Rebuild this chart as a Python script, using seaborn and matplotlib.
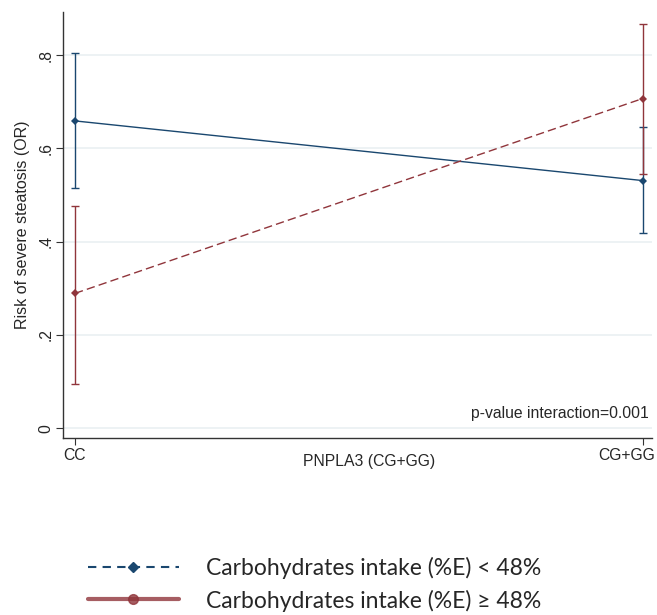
import numpy as np
import pandas as pd
import seaborn as sns
import matplotlib.pyplot as plt
import matplotlib.transforms as mtransforms
from matplotlib.lines import Line2D

# data
genotypes = ["CC", "CG+GG"]
low_carb_or = [0.659, 0.531]
low_carb_lo = [0.514, 0.418]
low_carb_hi = [0.804, 0.646]
high_carb_or = [0.289, 0.707]
high_carb_lo = [0.094, 0.546]
high_carb_hi = [0.476, 0.866]
group_names = ["Carbohydrates intake (%E) < 48%", "Carbohydrates intake (%E) \u2265 48%"]
y_ticks = [0, 0.2, 0.4, 0.6, 0.8]
y_ticklabels = ["0", ".2", ".4", ".6", ".8"]

blue = "#1a476f"
red = "#90353b"

df = pd.DataFrame({
    "x": [0, 1, 0, 1],
    "OR": low_carb_or + high_carb_or,
    "group": [group_names[0]] * 2 + [group_names[1]] * 2,
})

sns.set_style("white")
plt.rcParams["font.family"] = ["Liberation Sans", "DejaVu Sans"]

fig = plt.figure(figsize=(6.57, 6.15), dpi=100)
ax = fig.add_axes([0.096, 0.288, 0.896, 0.692])

for y in y_ticks:
    ax.axhline(y, color="#eaf0f2", lw=1.2, zorder=0)

sns.lineplot(data=df, x="x", y="OR", hue="group", style="group",
             palette=[blue, red], dashes=[(1, 0), (6, 3)],
             markers=["D", "D"], markersize=4.5, markeredgewidth=0,
             linewidth=1.0, legend=False, ax=ax, zorder=3)

for vals, lo, hi, c in [(low_carb_or, low_carb_lo, low_carb_hi, blue),
                        (high_carb_or, high_carb_lo, high_carb_hi, red)]:
    vals, lo, hi = np.array(vals), np.array(lo), np.array(hi)
    ax.errorbar([0, 1], vals, yerr=[vals - lo, hi - vals], fmt="none",
                ecolor=c, elinewidth=1.0, capsize=2.9, capthick=1.0, zorder=2)

ax.set_xlim(-0.021, 1.016)
ax.set_ylim(-0.021, 0.892)
ax.set_xticks([0, 1])
ax.set_xticklabels(genotypes, fontsize=11.3)
ax.set_yticks(y_ticks)
ax.set_yticklabels(y_ticklabels, fontsize=11.3, rotation=90, va="center")
ax.tick_params(axis="both", length=5, width=0.8, color="#333333", direction="out",
               left=True, bottom=True, pad=2)
# last x label sits a bit left of its tick, as in the reference
lbl = ax.get_xticklabels()[1]
lbl.set_transform(lbl.get_transform() + mtransforms.ScaledTranslation(-0.16, 0, fig.dpi_scale_trans))
ax.set_xlabel("PNPLA3 (CG+GG)", fontsize=11.3)
ax.xaxis.set_label_coords(0.52, -0.038)
ax.set_ylabel("Risk of severe steatosis (OR)", fontsize=11.5, labelpad=6)
for s in ["top", "right"]:
    ax.spines[s].set_visible(False)
for s in ["left", "bottom"]:
    ax.spines[s].set_color("#333333")
    ax.spines[s].set_linewidth(1.0)

ax.text(0.995, 0.058, "p-value interaction=0.001", transform=ax.transAxes,
        ha="right", va="center", fontsize=11.3)

handles = [
    Line2D([], [], color=blue, ls=(0, (4, 3)), lw=1.5, marker="D", markersize=5),
    Line2D([], [], color=red, lw=3, marker="o", markersize=7, alpha=0.8),
]
fig.legend(handles, group_names, loc="center left", bbox_to_anchor=(0.102, 0.05),
           frameon=False, handlelength=4.0, handletextpad=1.15, labelspacing=0.45,
           prop={"family": "Lato", "size": 16.5})

fig.savefig("out.png", dpi=100)
